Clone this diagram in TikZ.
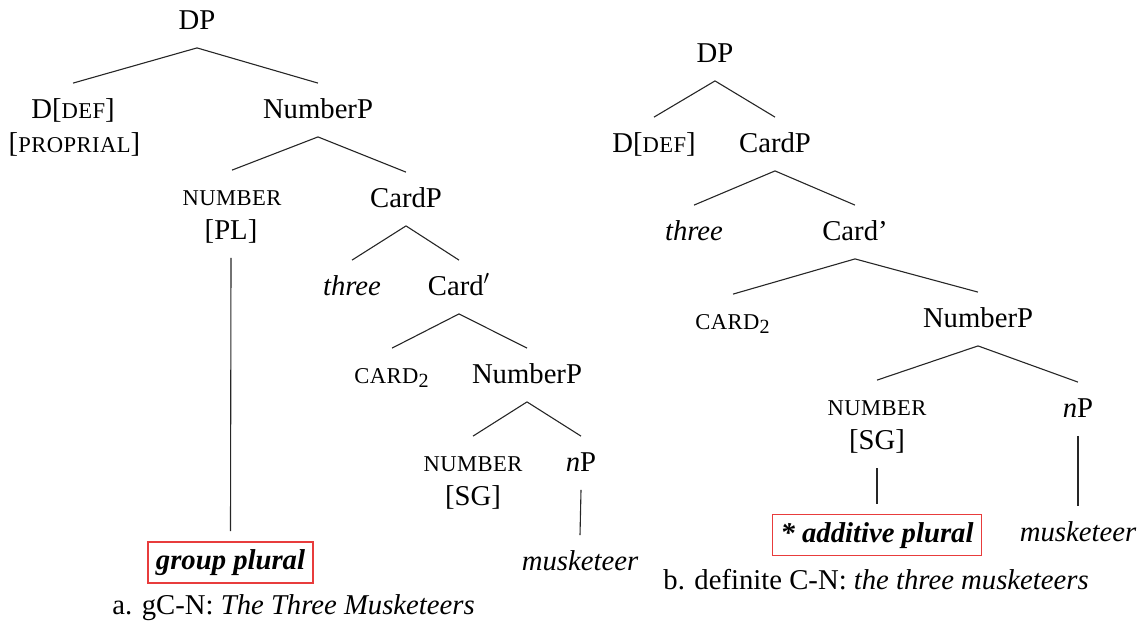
\documentclass[tikz,border=0pt]{standalone}
\usepackage{fontspec}
\setmainfont{Liberation Serif}
\newfontfamily\capsfamily[LetterSpace=2]{Liberation Serif}
% fake small capitals: upper-case letters set smaller
\newcommand\fsc[1]{{\fontsize{11.3}{13}\capsfamily #1}}
\definecolor{boxred}{RGB}{232,60,60}
\begin{document}
\begin{tikzpicture}[x=0.5pt,y=-0.5pt,
  font=\fontsize{14.35}{17}\selectfont,
  tn/.style={anchor=base,inner xsep=1pt,inner ysep=6.75pt,
             text height=10.5pt,text depth=2.5pt},
  branch/.style={line width=0.55pt,black!85},
  redbox/.style={draw=boxred,line width=0.6pt,inner xsep=4pt,inner ysep=3.25pt,
                 text height=10.5pt,text depth=3.5pt,outer ysep=5.5pt,
                 font=\fontsize{14.35}{17}\selectfont\bfseries\itshape},
  caption/.style={anchor=base west,inner sep=0pt}]
\useasboundingbox (0,0) rectangle (1143,623);

% ---------- tree a ----------
\node[tn] (aDP)    at (197,29)  {DP};
\node[tn] (aD)     at (73,118)  {D[\fsc{DEF}]};
\node[tn] (aProp)  at (74.5,152) {[\fsc{PROPRIAL}]};
\node[tn] (aNumP)  at (318,118) {NumberP};
\node[tn] (aNum)   at (232,205) {\fsc{NUMBER}};
\node[tn] (aPL)    at (231,239) {[PL]};
\node[tn] (aCardP) at (406,207) {CardP};
\node[tn] (aThree) at (352,295) {\itshape three};
\node[tn] (aCardb) at (459,295) {Card$'$};
\node[tn] (aCard)  at (392,383) {\fsc{CARD}\textsubscript{2}};
\node[tn] (aNumP2) at (527,383) {NumberP};
\node[tn] (aNum2)  at (473,471) {\fsc{NUMBER}};
\node[tn] (aSG)    at (473,505) {[SG]};
\node[tn] (anP)    at (581,471) {\textit{n}P};
\node[tn] (aMusk)  at (580,570) {\itshape musketeer};
\node[redbox] (aGroup) at (230.5,562.5) {group plural};
\node[caption] (aCap) at (112,614) {a. gC-N: \textit{The Three Musketeers}};

\draw[branch] (aDP.south) -- (aD.north);
\draw[branch] (aDP.south) -- (aNumP.north);
\draw[branch] (aNumP.south) -- (aNum.north);
\draw[branch] (aNumP.south) -- (aCardP.north);
\draw[branch] (aCardP.south) -- (aThree.north);
\draw[branch] (aCardP.south) -- (aCardb.north);
\draw[branch] (aCardb.south) -- (aCard.north);
\draw[branch] (aCardb.south) -- (aNumP2.north);
\draw[branch] (aNumP2.south) -- (aNum2.north);
\draw[branch] (aNumP2.south) -- (anP.north);
\draw[branch] (anP.south) -- (aMusk.north);
\draw[branch] (aPL.south) -- (aGroup.north);

% ---------- tree b ----------
\node[tn] (bDP)    at (715,62)  {DP};
\node[tn] (bD)     at (654,152) {D[\fsc{DEF}]};
\node[tn] (bCardP) at (775,152) {CardP};
\node[tn] (bThree) at (694,240) {\itshape three};
\node[tn] (bCardb) at (855,240) {Card’};
\node[tn] (bCard)  at (733,329) {\fsc{CARD}\textsubscript{2}};
\node[tn] (bNumP)  at (978,327) {NumberP};
\node[tn] (bNum)   at (877,415) {\fsc{NUMBER}};
\node[tn] (bSG)    at (877,449.5) {[SG]};
\node[tn] (bnP)    at (1078,417) {\textit{n}P};
\node[tn] (bMusk)  at (1078,541) {\itshape musketeer};
\node[redbox] (bAdd) at (877,535) {* additive plural};
\node[caption] (bCap) at (663,589) {b. definite C-N: \textit{the three musketeers}};

\draw[branch] (bDP.south) -- (bD.north);
\draw[branch] (bDP.south) -- (bCardP.north);
\draw[branch] (bCardP.south) -- (bThree.north);
\draw[branch] (bCardP.south) -- (bCardb.north);
\draw[branch] (bCardb.south) -- (bCard.north);
\draw[branch] (bCardb.south) -- (bNumP.north);
\draw[branch] (bNumP.south) -- (bNum.north);
\draw[branch] (bNumP.south) -- (bnP.north);
\draw[branch] (bSG.south) -- (bAdd.north);
\draw[branch] (bnP.south) -- (bMusk.north);
\end{tikzpicture}
\end{document}
